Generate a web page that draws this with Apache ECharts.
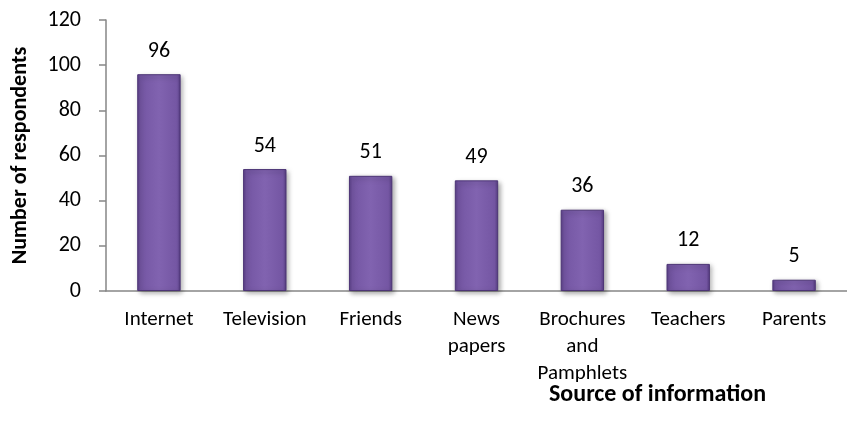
<!DOCTYPE html>
<html>
<head>
<meta charset="utf-8">
<script src="https://cdn.jsdelivr.net/npm/echarts@6/dist/echarts.min.js"></script>
<style>
  html, body { margin: 0; padding: 0; background: #fff; }
  #main { width: 847px; height: 426px; }
</style>
</head>
<body>
<div id="main"></div>
<script>
// data
var sources = ["Internet", "Television", "Friends", "News\npapers", "Brochures\nand\nPamphlets", "Teachers", "Parents"];
var respondents = [96, 54, 51, 49, 36, 12, 5];
var yTicks = [0, 20, 40, 60, 80, 100, 120];

var font = "Carlito, Lato, sans-serif";
var axisGrey = "#868686";

var chart = echarts.init(document.getElementById("main"));
chart.setOption({
  animation: false,
  title: {
    text: "Source of information",
    left: 549,
    top: 383,
    padding: 0,
    textStyle: { fontFamily: font, fontSize: 24, fontWeight: "bold", color: "#000" }
  },
  grid: { left: 106, top: 20, width: 751, height: 271 },
  xAxis: {
    type: "category",
    data: sources,
    axisLine: { lineStyle: { color: axisGrey, width: 1.5 } },
    axisTick: { length: 7, lineStyle: { color: axisGrey, width: 1.5 } },
    axisLabel: {
      interval: 0,
      margin: 15,
      color: "#000",
      fontFamily: font,
      fontSize: 21,
      lineHeight: 27
    }
  },
  yAxis: {
    type: "value",
    min: yTicks[0],
    max: yTicks[yTicks.length - 1],
    interval: 20,
    name: "Number of respondents",
    nameLocation: "middle",
    nameRotate: 90,
    nameGap: 75,
    nameTextStyle: { fontFamily: font, fontSize: 22, fontWeight: "bold", color: "#000" },
    axisLine: { show: true, lineStyle: { color: axisGrey, width: 1.5 } },
    axisTick: { show: true, length: 7, lineStyle: { color: axisGrey, width: 1.5 } },
    splitLine: { show: false },
    axisLabel: { margin: 25, color: "#000", fontFamily: font, fontSize: 22 }
  },
  series: [{
    type: "bar",
    data: respondents,
    barWidth: "41%",
    itemStyle: {
      color: {
        type: "linear", x: 0, y: 0, x2: 1, y2: 0,
        colorStops: [
          { offset: 0, color: "#5a3f87" },
          { offset: 0.08, color: "#7456a3" },
          { offset: 0.5, color: "#8163b0" },
          { offset: 0.92, color: "#7456a3" },
          { offset: 1, color: "#553c80" }
        ]
      },
      borderColor: "#4d3576",
      borderWidth: 1,
      shadowBlur: 5,
      shadowColor: "rgba(0,0,0,0.35)",
      shadowOffsetX: 2,
      shadowOffsetY: 2
    },
    label: {
      show: true,
      position: "top",
      distance: 12,
      color: "#000",
      fontFamily: font,
      fontSize: 22
    }
  }]
});
</script>
</body>
</html>
